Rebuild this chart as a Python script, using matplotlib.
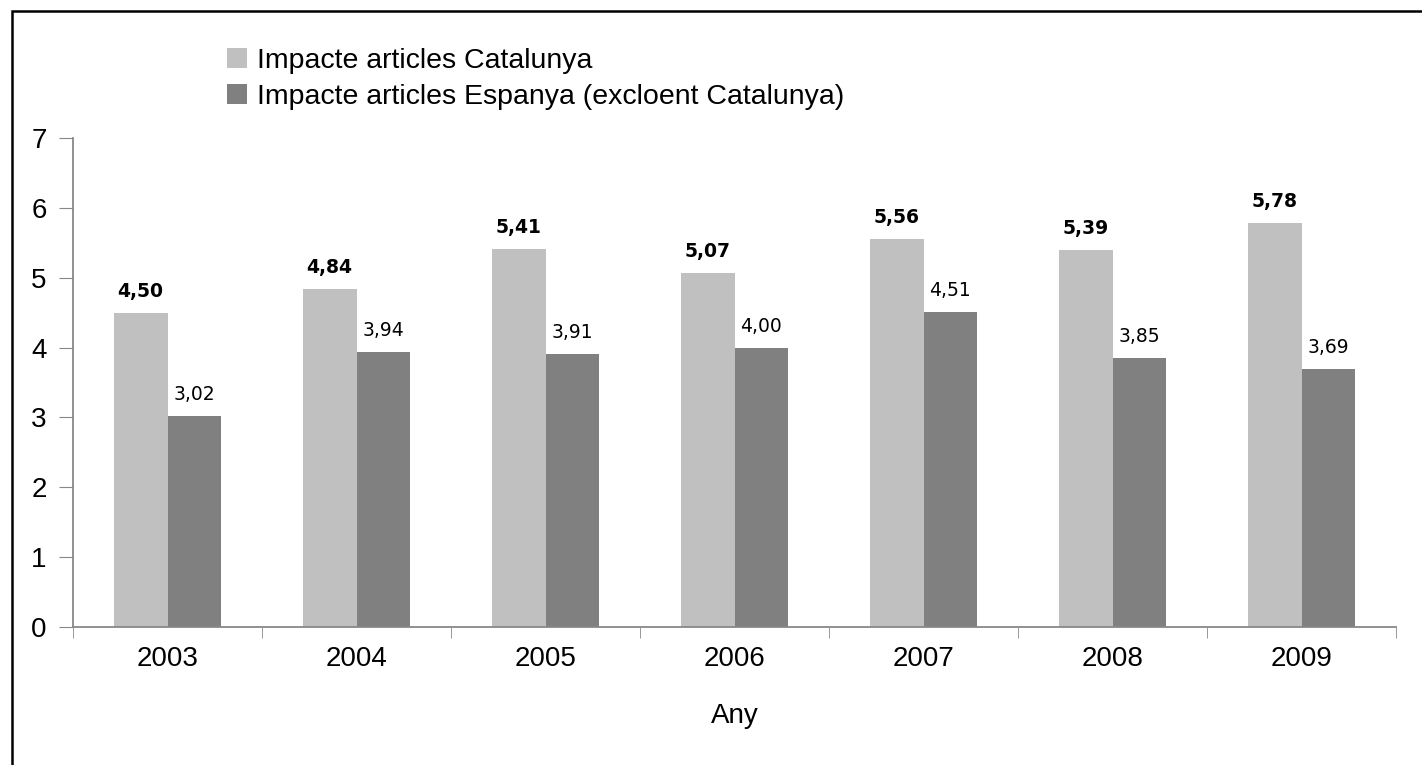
import numpy as np
import matplotlib.pyplot as plt
from matplotlib.patches import Rectangle

years = ["2003", "2004", "2005", "2006", "2007", "2008", "2009"]
catalunya = [4.50, 4.84, 5.41, 5.07, 5.56, 5.39, 5.78]
espanya = [3.02, 3.94, 3.91, 4.00, 4.51, 3.85, 3.69]
legend_labels = ["Impacte articles Catalunya", "Impacte articles Espanya (excloent Catalunya)"]

plt.rcParams['font.family'] = ['Liberation Sans', 'DejaVu Sans']

fig = plt.figure(figsize=(14.22, 7.65), dpi=100)
ax = fig.add_axes([73 / 1422, 1 - 627 / 765, 1323 / 1422, 489 / 765])

x = np.arange(len(years))
w = 0.285
b1 = ax.bar(x - w / 2, catalunya, w, color='#c0c0c0', label=legend_labels[0])
b2 = ax.bar(x + w / 2, espanya, w, color='#808080', label=legend_labels[1])

for xi, v in zip(x, catalunya):
    ax.annotate(f"{v:.2f}".replace('.', ','), (xi - w / 2, v), xytext=(0, 12),
                textcoords='offset pixels', ha='center', va='bottom',
                fontsize=13.5, fontweight='bold', family='DejaVu Sans')
for xi, v in zip(x, espanya):
    ax.annotate(f"{v:.2f}".replace('.', ','), (xi + w / 2, v), xytext=(0, 12),
                textcoords='offset pixels', ha='center', va='bottom',
                fontsize=13.5, family='DejaVu Sans')

ax.set_xlim(-0.5, len(years) - 0.5)
ax.set_ylim(0, 7)
ax.set_yticks(range(8))
ax.set_xticks(x)
ax.set_xticklabels(years)
ax.set_xticks(np.arange(-0.5, len(years)), minor=True)
ax.tick_params(axis='x', which='major', length=0, pad=14, labelsize=20)
ax.tick_params(axis='x', which='minor', length=8, color='#888888', direction='out')
ax.tick_params(axis='y', length=10, color='#888888', pad=9, labelsize=20)
for s in ['top', 'right']:
    ax.spines[s].set_visible(False)
for s in ['left', 'bottom']:
    ax.spines[s].set_color('#888888')
    ax.spines[s].set_linewidth(1.3)
ax.set_xlabel("Any", fontsize=20, labelpad=22)

fig.legend(handles=[b1, b2], loc='upper left', bbox_to_anchor=(213 / 1422, 1 - 34 / 765),
           frameon=False, fontsize=20.5, handlelength=0.7, handleheight=0.7,
           handletextpad=0.35, labelspacing=0.33, borderpad=0)

fig.patches.append(Rectangle((12 / 1422, -0.1), 1.2, 1 - 11 / 765 + 0.1,
                             transform=fig.transFigure, fill=False,
                             edgecolor='black', linewidth=1.8))

fig.savefig("out.png", dpi=100)
